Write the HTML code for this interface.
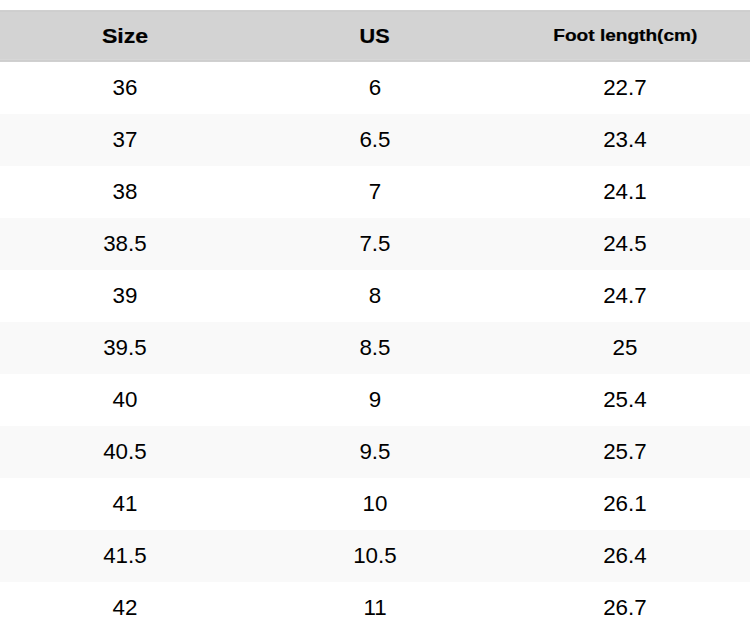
<!DOCTYPE html>
<html><head><meta charset="utf-8">
<style>
html,body{margin:0;padding:0;background:#fff;width:750px;height:634px;overflow:hidden}
table{border-collapse:collapse;width:750px;margin-top:10px;font-family:"Liberation Sans",sans-serif;color:#000;table-layout:fixed}
th,td{box-sizing:border-box;width:250px;height:52px;padding:0;text-align:center;vertical-align:middle}
th{-webkit-text-stroke:0.22px #000;background:#d3d3d3 linear-gradient(#d0d0d0 0 1px,#cecece 1px 2px,transparent 2px calc(100% - 3px),#d7d7d7 calc(100% - 3px) calc(100% - 2px),#cecece calc(100% - 2px) calc(100% - 1px),#d0d0d0 calc(100% - 1px));font-weight:bold;font-size:21px}
td{font-size:21.5px}
span{display:inline-block;transform-origin:50% 50%}
th span{transform:scaleX(1.10)}
th.b span{transform:scaleX(1.03)}
th.s{font-size:16.5px}
th.s span{transform:translateY(-1px) scaleX(1.155)}
td span{transform:scaleX(1.04)}
tr:nth-child(odd) td{background:#f9f9f9}
</style></head><body>
<table>
<tr><th class="a"><span>Size</span></th><th class="b"><span>US</span></th><th class="s"><span>Foot length(cm)</span></th></tr>
<tr><td><span>36</span></td><td><span>6</span></td><td><span>22.7</span></td></tr>
<tr><td><span>37</span></td><td><span>6.5</span></td><td><span>23.4</span></td></tr>
<tr><td><span>38</span></td><td><span>7</span></td><td><span>24.1</span></td></tr>
<tr><td><span>38.5</span></td><td><span>7.5</span></td><td><span>24.5</span></td></tr>
<tr><td><span>39</span></td><td><span>8</span></td><td><span>24.7</span></td></tr>
<tr><td><span>39.5</span></td><td><span>8.5</span></td><td><span>25</span></td></tr>
<tr><td><span>40</span></td><td><span>9</span></td><td><span>25.4</span></td></tr>
<tr><td><span>40.5</span></td><td><span>9.5</span></td><td><span>25.7</span></td></tr>
<tr><td><span>41</span></td><td><span>10</span></td><td><span>26.1</span></td></tr>
<tr><td><span>41.5</span></td><td><span>10.5</span></td><td><span>26.4</span></td></tr>
<tr><td><span>42</span></td><td><span>11</span></td><td><span>26.7</span></td></tr>
</table>
</body></html>
